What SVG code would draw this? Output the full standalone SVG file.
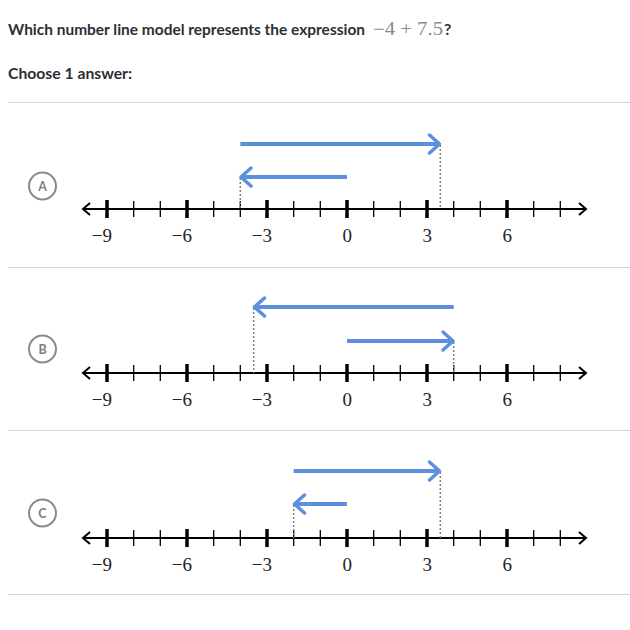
<svg xmlns="http://www.w3.org/2000/svg" xmlns:xlink="http://www.w3.org/1999/xlink" width="630" height="630" viewBox="0 0 630 630">
<style>
.q{font-family:Lato,"Open Sans","Liberation Sans",sans-serif;font-weight:700;font-size:16px;fill:#2d2f33}
.m{font-family:"Liberation Serif","DejaVu Serif",serif;font-size:18px;fill:#8a8a8a}
.lab{font-family:"Liberation Serif","DejaVu Serif",serif;font-size:19px;fill:#21242c;text-anchor:end}
.sep{stroke:#d6d6d6;stroke-width:1}
.axis{stroke:#000;stroke-width:2;fill:none}
.maj{stroke:#000;stroke-width:3.5}
.min{stroke:#000;stroke-width:1.3}
.blue{stroke:#5d8fdf;stroke-width:4;fill:none;marker-end:url(#bh)}
.dot{stroke:#808080;stroke-width:1.5;stroke-dasharray:2 2}
.circ{fill:#fff;stroke:#8a8a8a;stroke-width:2}
.cl{font-family:Lato,"Liberation Sans",sans-serif;font-weight:700;font-size:12.5px;fill:#7d7d7d;text-anchor:middle}
</style>
<defs>
<marker id="bh" markerUnits="userSpaceOnUse" markerWidth="26" markerHeight="26" viewBox="-13 -13 26 26" refX="0" refY="0" orient="auto">
<path d="M-10,-9 L0,0 L-10,9" fill="none" stroke="#5d8fdf" stroke-width="3.5" stroke-linecap="round" stroke-linejoin="round"/>
</marker>
<g id="numline">
<line class="axis" x1="84" y1="0" x2="585" y2="0"/>
<path class="axis" d="M90,-6 L83,0 L90,6 M579,-6 L586,0 L579,6"/>
<g class="maj">
<line x1="107" y1="-9" x2="107" y2="9"/><line x1="187" y1="-9" x2="187" y2="9"/><line x1="267" y1="-9" x2="267" y2="9"/><line x1="347" y1="-9" x2="347" y2="9"/><line x1="427" y1="-9" x2="427" y2="9"/><line x1="507" y1="-9" x2="507" y2="9"/>
</g>
<g class="min">
<line x1="133.7" y1="-8" x2="133.7" y2="8"/><line x1="160.3" y1="-8" x2="160.3" y2="8"/><line x1="213.7" y1="-8" x2="213.7" y2="8"/><line x1="240.3" y1="-8" x2="240.3" y2="8"/><line x1="293.7" y1="-8" x2="293.7" y2="8"/><line x1="320.3" y1="-8" x2="320.3" y2="8"/><line x1="373.7" y1="-8" x2="373.7" y2="8"/><line x1="400.3" y1="-8" x2="400.3" y2="8"/><line x1="453.7" y1="-8" x2="453.7" y2="8"/><line x1="480.3" y1="-8" x2="480.3" y2="8"/><line x1="533.7" y1="-8" x2="533.7" y2="8"/><line x1="560.3" y1="-8" x2="560.3" y2="8"/>
</g>
<text class="lab" x="112" y="33">−9</text>
<text class="lab" x="192" y="33">−6</text>
<text class="lab" x="272" y="33">−3</text>
<text class="lab" x="352" y="33">0</text>
<text class="lab" x="432" y="33">3</text>
<text class="lab" x="512" y="33">6</text>
</g>
</defs>
<g id="question">
<text class="q" x="8" y="35" textLength="357" lengthAdjust="spacingAndGlyphs">Which number line model represents the expression</text>
<text class="m" x="373" y="35" textLength="70" lengthAdjust="spacingAndGlyphs">−4 + 7.5</text>
<text class="q" x="444" y="35">?</text>
<text class="q" x="8" y="79" textLength="124" lengthAdjust="spacingAndGlyphs">Choose 1 answer:</text>
</g>
<g id="separators">
<line class="sep" x1="8" y1="102.5" x2="630" y2="102.5"/>
<line class="sep" x1="8" y1="267.5" x2="630" y2="267.5"/>
<line class="sep" x1="8" y1="430.5" x2="630" y2="430.5"/>
<line class="sep" x1="8" y1="594.5" x2="630" y2="594.5"/>
</g>
<g id="optionA">
<circle class="circ" cx="42.5" cy="186" r="13.5"/><text class="cl" x="42.5" y="190.5">A</text>
<use xlink:href="#numline" href="#numline" transform="translate(0,209)"/>
<line class="dot" x1="240.3" y1="178" x2="240.3" y2="209"/>
<line class="dot" x1="440.3" y1="145" x2="440.3" y2="209"/>
<line class="blue" x1="240.3" y1="144" x2="439.5" y2="144"/>
<line class="blue" x1="347" y1="177" x2="241" y2="177"/>
</g>
<g id="optionB">
<circle class="circ" cx="42.5" cy="349" r="13.5"/><text class="cl" x="42.5" y="353.5">B</text>
<use xlink:href="#numline" href="#numline" transform="translate(0,373)"/>
<line class="dot" x1="253.7" y1="308" x2="253.7" y2="373"/>
<line class="dot" x1="453.7" y1="342" x2="453.7" y2="373"/>
<line class="blue" x1="453.7" y1="307" x2="254.5" y2="307"/>
<line class="blue" x1="347" y1="341" x2="453" y2="341"/>
</g>
<g id="optionC">
<circle class="circ" cx="42.5" cy="513" r="13.5"/><text class="cl" x="42.5" y="517.5">C</text>
<use xlink:href="#numline" href="#numline" transform="translate(0,538)"/>
<line class="dot" x1="293.7" y1="505" x2="293.7" y2="538"/>
<line class="dot" x1="440.3" y1="472" x2="440.3" y2="538"/>
<line class="blue" x1="293.7" y1="471" x2="439.5" y2="471"/>
<line class="blue" x1="347" y1="504" x2="294.5" y2="504"/>
</g>
</svg>
